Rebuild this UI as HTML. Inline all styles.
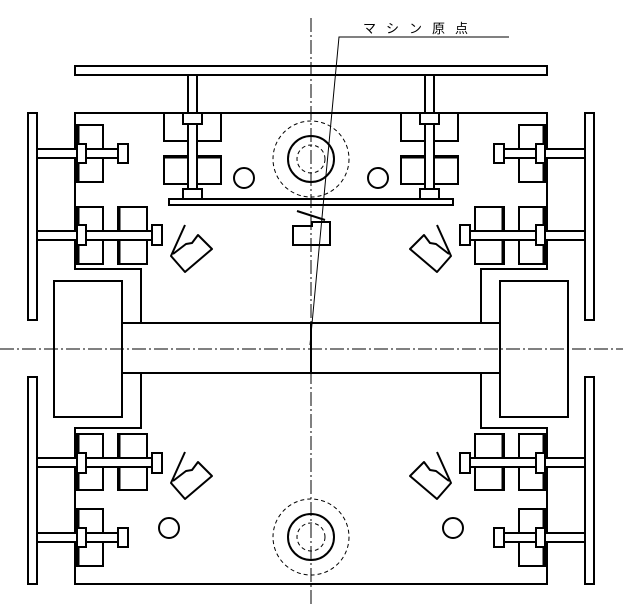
<!DOCTYPE html>
<html><head><meta charset="utf-8"><style>html,body{margin:0;padding:0;background:#fff}svg{display:block}</style></head>
<body>
<svg width="623" height="604" viewBox="0 0 623 604" xmlns="http://www.w3.org/2000/svg">
<defs>
<g id="half" stroke="#000" stroke-width="2" fill="none">
  <path d="M311,113 H75 V269 H141 V323 M141,373 V428 H75 V584 H311"/>
  <rect x="54" y="281" width="68" height="136"/>
  <rect x="28" y="113" width="9" height="207"/>
  <rect x="28" y="377" width="9" height="207"/>
  <!-- row 1 -->
  <rect x="77" y="125" width="26" height="57"/><line x1="78" y1="125" x2="78" y2="182" stroke-width="3"/>
  <rect x="37" y="149" width="81" height="9" fill="#fff"/>
  <rect x="77" y="144" width="9" height="19" fill="#fff"/>
  <rect x="118" y="144" width="10" height="19" fill="#fff"/>
  <!-- row 2 -->
  <rect x="77" y="207" width="26" height="57"/><line x1="78" y1="207" x2="78" y2="264" stroke-width="3"/>
  <rect x="118" y="207" width="29" height="57"/><line x1="119" y1="207" x2="119" y2="264" stroke-width="3"/>
  <rect x="37" y="231" width="115" height="9" fill="#fff"/>
  <rect x="77" y="225" width="9" height="20" fill="#fff"/>
  <rect x="152" y="225" width="10" height="20" fill="#fff"/>
  <!-- lower row 1 -->
  <rect x="77" y="434" width="26" height="56"/><line x1="78" y1="434" x2="78" y2="490" stroke-width="3"/>
  <rect x="118" y="434" width="29" height="56"/><line x1="119" y1="434" x2="119" y2="490" stroke-width="3"/>
  <rect x="37" y="458" width="115" height="9" fill="#fff"/>
  <rect x="77" y="453" width="9" height="20" fill="#fff"/>
  <rect x="152" y="453" width="10" height="20" fill="#fff"/>
  <!-- lower row 2 -->
  <rect x="77" y="509" width="26" height="57"/><line x1="78" y1="509" x2="78" y2="566" stroke-width="3"/>
  <rect x="37" y="533" width="81" height="9" fill="#fff"/>
  <rect x="77" y="528" width="9" height="19" fill="#fff"/>
  <rect x="118" y="528" width="10" height="19" fill="#fff"/>
  <!-- top middle -->
  <rect x="164" y="113" width="57" height="28"/>
  <rect x="164" y="156" width="57" height="28"/><line x1="164" y1="157" x2="221" y2="157" stroke-width="3"/>
  <rect x="188" y="75" width="9" height="115" fill="#fff"/>
  <rect x="183" y="113" width="19" height="11" fill="#fff"/>
  <rect x="183" y="189" width="19" height="10" fill="#fff"/>
  <!-- jaws -->
  <path d="M185,225 L171,256 L185,272 L212,249 L198,235 L192,243 L186,244 L173,254" stroke-linejoin="round"/>
  <path d="M185,452 L171,483 L185,499 L212,476 L198,462 L192,470 L186,471 L173,481" stroke-linejoin="round"/>
</g>
</defs>
<use href="#half"/>
<use href="#half" transform="matrix(-1 0 0 1 622 0)"/>
<g stroke="#000" stroke-width="2" fill="none">
  <rect x="75" y="66" width="472" height="9"/>
  <rect x="169" y="199" width="284" height="6"/>
  <path d="M122,323 H499 M122,373 H499 M311,323 V373"/>
  <circle cx="244" cy="178" r="10"/><circle cx="378" cy="178" r="10"/>
  <circle cx="169" cy="528" r="10"/><circle cx="453" cy="528" r="10"/>
  <circle cx="311" cy="159" r="23"/><circle cx="311" cy="537" r="23"/>
  <path d="M293,226 H312 V222 H330 V245 H293 Z"/>
  <line x1="297" y1="211" x2="325" y2="220"/>
</g>
<g stroke="#000" stroke-width="1" fill="none" stroke-dasharray="4,3">
  <circle cx="311" cy="159" r="14"/><circle cx="311" cy="159" r="38"/>
  <circle cx="311" cy="537" r="14"/><circle cx="311" cy="537" r="38"/>
</g>
<g stroke="#000" stroke-width="1" fill="none" stroke-dasharray="14,3,2,3">
  <line x1="0" y1="349" x2="623" y2="349"/>
  <line x1="311" y1="18" x2="311" y2="604"/>
</g>
<path d="M310,345 L339,37 H509" stroke="#000" stroke-width="1" fill="none"/>
<text x="363" y="33" font-family="'Liberation Sans','Noto Sans CJK JP',sans-serif" font-size="13" letter-spacing="10" fill="#000">マシン原点</text>
</svg>
</body></html>
